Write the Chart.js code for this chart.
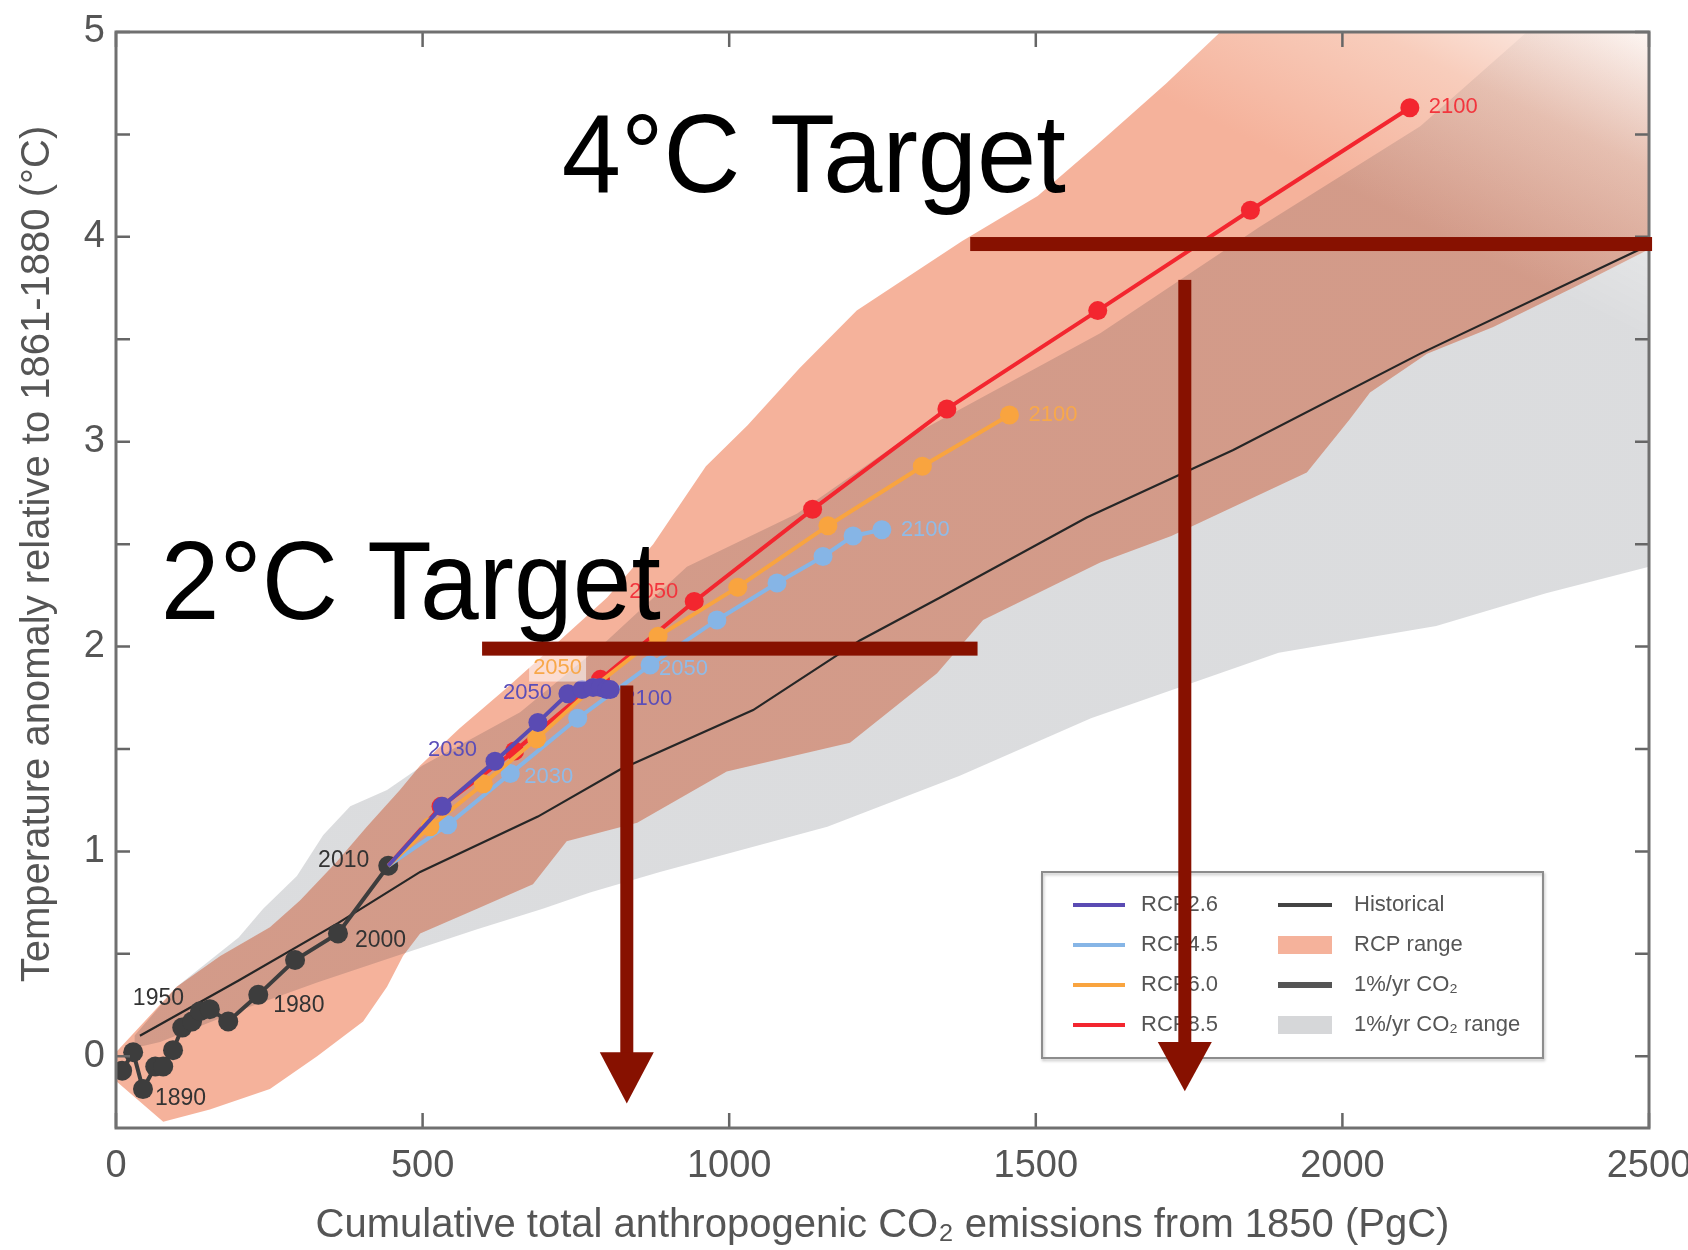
<!DOCTYPE html>
<html>
<head>
<meta charset="utf-8">
<title>Warming vs cumulative CO2 emissions</title>
<script src="https://cdn.jsdelivr.net/npm/chart.js@4.4.1/dist/chart.umd.min.js"></script>
<style>
  html, body { margin: 0; padding: 0; background: #fff; }
  #wrap { width: 1688px; height: 1250px; position: relative; }
</style>
</head>
<body>
<div id="wrap"><canvas id="tempChart"></canvas></div>
<script>
// ---- data (PgC since 1850, degC vs 1861-1880) ----
var histYears = [1870, 1880, 1890, 1900, 1910, 1920, 1930, 1940, 1950, 1960, 1970, 1980, 1990, 2000, 2010];
var histEmis = [10, 28, 44, 64, 77, 93, 108, 124, 137, 153, 183, 232, 292, 362, 444];
var histTemp = [-0.07, 0.02, -0.16, -0.05, -0.05, 0.03, 0.14, 0.17, 0.22, 0.23, 0.17, 0.30, 0.47, 0.60, 0.93];

var rcpYears = [2010, 2020, 2030, 2040, 2050, 2060, 2070, 2080, 2090, 2100];
var rcp26Emis = [444, 532, 618, 688, 737, 760, 778, 790, 800, 806];
var rcp26Temp = [0.93, 1.22, 1.44, 1.63, 1.77, 1.79, 1.80, 1.80, 1.79, 1.79];
var rcp45Emis = [444, 541, 643, 753, 871, 980, 1078, 1153, 1202, 1249];
var rcp45Temp = [0.93, 1.13, 1.38, 1.65, 1.91, 2.13, 2.31, 2.44, 2.54, 2.57];
var rcp60Emis = [444, 512, 599, 686, 778, 884, 1014, 1161, 1315, 1457];
var rcp60Temp = [0.93, 1.12, 1.33, 1.55, 1.80, 2.05, 2.29, 2.59, 2.88, 3.13];
var rcp85Emis = [444, 530, 650, 790, 943, 1136, 1355, 1601, 1850, 2110];
var rcp85Temp = [0.93, 1.22, 1.49, 1.84, 2.22, 2.67, 3.16, 3.64, 4.13, 4.63];

var pctEmis = [39, 200, 362, 496, 688, 822, 1039, 1213, 1344, 1583, 1822, 2127, 2500];
var pctTemp = [0.10, 0.37, 0.65, 0.90, 1.17, 1.40, 1.69, 2.03, 2.24, 2.63, 2.96, 3.43, 3.96];

var rcpTopEmis = [0, 99, 170, 251, 300, 360, 409, 463, 496, 560, 638, 720, 801, 876, 962, 1030, 1115, 1208, 1380, 1503, 1600, 1713, 1808, 2500];
var rcpTopTemp = [0.02, 0.34, 0.49, 0.63, 0.76, 0.95, 1.12, 1.30, 1.42, 1.60, 1.80, 2.02, 2.24, 2.50, 2.88, 3.08, 3.36, 3.64, 3.98, 4.20, 4.45, 4.75, 5.02, 6.0];
var rcpBotEmis = [0, 77, 153, 251, 328, 403, 442, 468, 496, 589, 680, 735, 850, 996, 1197, 1339, 1414, 1605, 1721, 1942, 2012, 2045, 2138, 2246, 2382, 2500];
var rcpBotTemp = [-0.12, -0.32, -0.26, -0.16, 0.0, 0.17, 0.34, 0.49, 0.60, 0.72, 0.84, 1.05, 1.14, 1.39, 1.53, 1.87, 2.13, 2.41, 2.54, 2.85, 3.11, 3.24, 3.43, 3.56, 3.76, 3.94];

var pctTopEmis = [30, 99, 200, 240, 295, 338, 382, 442, 500, 659, 801, 931, 1111, 1279, 1605, 1866, 2127, 2301, 2500];
var pctTopTemp = [0.10, 0.34, 0.58, 0.72, 0.88, 1.08, 1.22, 1.30, 1.42, 1.68, 2.03, 2.39, 2.65, 3.00, 3.53, 4.05, 4.54, 5.0, 5.4];
var pctBotEmis = [30, 72, 207, 328, 468, 589, 696, 773, 887, 1160, 1376, 1590, 1896, 2153, 2332, 2500];
var pctBotTemp = [0.04, 0.07, 0.23, 0.36, 0.50, 0.62, 0.72, 0.80, 0.90, 1.12, 1.37, 1.65, 1.97, 2.10, 2.26, 2.39];

var xTicks = [0, 500, 1000, 1500, 2000, 2500];
var yTicks = [0, 0.5, 1, 1.5, 2, 2.5, 3, 3.5, 4, 4.5, 5];

// warming targets and the emission budgets they point down to
var targetTemps = [2, 4];
var targetLineTemp = [1.99, 3.965];
var targetLineFrom = [597, 1393];
var targetLineTo = [1405, 2505];
var budgetEmis = [833, 1743];
var budgetTop = [1.81, 3.79];

function pairs(xs, ys) {
  return xs.map(function (x, i) { return { x: x, y: ys[i] }; });
}

// top-right corner of the shaded bands washes out to white
function fade(chart, c0, c1, c2) {
  var a = chart.chartArea;
  if (!a) return c0;
  var g = chart.ctx.createLinearGradient(a.right - 123, a.top + 246, a.right, a.top);
  g.addColorStop(0, c0);
  g.addColorStop(0.55, c1);
  g.addColorStop(1, c2);
  return g;
}

var SANS = "'Liberation Sans', Arial, Helvetica, sans-serif";
Chart.defaults.font.family = SANS;
Chart.defaults.color = '#555';

function rcpSet(label, xs, ys, color, order) {
  return {
    label: label,
    data: pairs(xs, ys),
    borderColor: color,
    backgroundColor: color,
    pointBackgroundColor: color,
    pointBorderWidth: 0,
    borderWidth: 4,
    pointRadius: function (c) { return c.dataIndex === 0 ? 0 : 9.5; },
    tension: 0,
    fill: false,
    order: order
  };
}

function edge(xs, ys, order, fill, bg) {
  return {
    data: pairs(xs, ys),
    borderWidth: 0,
    borderColor: 'transparent',
    pointRadius: 0,
    tension: 0,
    fill: fill,
    backgroundColor: bg,
    order: order
  };
}

var datasets = [
  rcpSet('RCP2.6', rcp26Emis, rcp26Temp, '#5a4bb3', 1),
  rcpSet('RCP6.0', rcp60Emis, rcp60Temp, '#f9a43f', 2),
  rcpSet('RCP4.5', rcp45Emis, rcp45Temp, '#86b5e6', 3),
  rcpSet('RCP8.5', rcp85Emis, rcp85Temp, '#f3262f', 4),
  {
    label: 'Historical',
    data: pairs(histEmis, histTemp),
    borderColor: '#3d3d3d',
    backgroundColor: '#3d3d3d',
    pointBackgroundColor: '#3d3d3d',
    pointBorderWidth: 0,
    borderWidth: 4,
    pointRadius: 10,
    tension: 0,
    fill: false,
    order: 5
  },
  {
    label: '1%/yr CO\u2082',
    data: pairs(pctEmis, pctTemp),
    borderColor: '#262626',
    borderWidth: 2.2,
    pointRadius: 0,
    tension: 0,
    fill: false,
    order: 6
  },
  edge(pctTopEmis, pctTopTemp, 7, 7, function (c) {
    return fade(c.chart, 'rgba(15,22,35,0.15)', 'rgba(15,22,35,0.08)', 'rgba(15,22,35,0)');
  }),
  edge(pctBotEmis, pctBotTemp, 8, false, 'transparent'),
  edge(rcpTopEmis, rcpTopTemp, 9, 9, function (c) {
    return fade(c.chart, 'rgb(245,178,155)', 'rgb(248,205,188)', 'rgb(253,246,243)');
  }),
  edge(rcpBotEmis, rcpBotTemp, 10, false, 'transparent')
];

// axis frame with inward ticks on all four sides
var frame = {
  id: 'frame',
  afterDatasetsDraw: function (chart) {
    var ctx = chart.ctx, a = chart.chartArea, x = chart.scales.x, y = chart.scales.y;
    ctx.save();
    ctx.strokeStyle = '#666';
    ctx.lineWidth = 2.5;
    ctx.beginPath();
    yTicks.forEach(function (v) {
      var py = y.getPixelForValue(v);
      ctx.moveTo(a.left, py); ctx.lineTo(a.left + 14, py);
      ctx.moveTo(a.right, py); ctx.lineTo(a.right - 14, py);
    });
    xTicks.forEach(function (v) {
      var px = x.getPixelForValue(v);
      ctx.moveTo(px, a.bottom); ctx.lineTo(px, a.bottom - 15);
      ctx.moveTo(px, a.top); ctx.lineTo(px, a.top + 15);
    });
    ctx.stroke();
    ctx.lineWidth = 3;
    ctx.strokeStyle = '#707070';
    ctx.strokeRect(a.left, a.top, a.right - a.left, a.bottom - a.top);
    ctx.restore();
  }
};

// year tags next to selected markers: [dataset, year, side, dx, dy]
var tagSpots = [
  [4, 1890, 'left', 12, 10], [4, 1950, 'right', -16, -13], [4, 1980, 'left', 15, 11],
  [4, 2000, 'left', 17, 7], [4, 2010, 'right', -19, -5],
  [0, 2030, 'right', -18, -11], [0, 2050, 'right', -16, -1], [0, 2100, 'left', 13, 9],
  [2, 2030, 'left', 14, 3], [2, 2050, 'left', 9, 4], [2, 2100, 'left', 19, 0],
  [1, 2050, 'right', -11, -20], [1, 2100, 'left', 19, 0],
  [3, 2050, 'right', -16, -10], [3, 2100, 'left', 19, -1]
];
var tagColors = ['#5b4eb8', '#f8a84a', '#8fbbe8', '#f2353d', '#333'];

var yearTags = {
  id: 'yearTags',
  afterDatasetsDraw: function (chart) {
    var ctx = chart.ctx;
    ctx.save();
    ctx.textBaseline = 'middle';
    tagSpots.forEach(function (t) {
      var set = t[0];
      var years = set === 4 ? histYears : rcpYears;
      var i = years.indexOf(t[1]);
      var pt = chart.getDatasetMeta(set).data[i];
      var tx = pt.x + t[3], ty = pt.y + t[4];
      ctx.font = (set === 4 ? '23px ' : '22px ') + SANS;
      ctx.textAlign = t[2];
      var label = String(t[1]);
      if (set === 1 && t[1] === 2050) {
        var w = ctx.measureText(label).width;
        ctx.fillStyle = 'rgba(255,255,255,0.55)';
        ctx.fillRect(tx - w - 4, ty - 14, w + 8, 28);
      }
      ctx.fillStyle = tagColors[set];
      ctx.fillText(label, tx, ty);
    });
    ctx.restore();
  }
};

// two-column key in the lower right of the plot
var keyBox = {
  id: 'keyBox',
  afterDatasetsDraw: function (chart) {
    var ctx = chart.ctx, a = chart.chartArea, ds = chart.data.datasets;
    var L = a.right - 607, T = a.bottom - 256, R = a.right - 106, B = a.bottom - 70;
    ctx.save();
    ctx.fillStyle = '#fff';
    ctx.fillRect(L, T, R - L, B - T);
    ctx.shadowColor = 'rgba(0,0,0,0.25)';
    ctx.shadowBlur = 3;
    ctx.shadowOffsetX = 1;
    ctx.shadowOffsetY = 2;
    ctx.strokeStyle = '#8c8c8c';
    ctx.lineWidth = 2;
    ctx.strokeRect(L, T, R - L, B - T);
    ctx.shadowColor = 'transparent';
    ctx.font = '22px ' + SANS;
    ctx.textBaseline = 'middle';
    ctx.textAlign = 'left';
    var rows = [33, 73, 113, 153];
    var left = [0, 2, 1, 3];
    left.forEach(function (k, r) {
      var yy = T + rows[r];
      ctx.strokeStyle = ds[k].borderColor;
      ctx.lineWidth = 4;
      ctx.beginPath(); ctx.moveTo(L + 31, yy); ctx.lineTo(L + 83, yy); ctx.stroke();
      ctx.fillStyle = '#555';
      ctx.fillText(ds[k].label, L + 99, yy);
    });
    var right = [
      ['line', '#444', 4, 'Historical'],
      ['box', 'rgb(245,178,155)', 0, 'RCP range'],
      ['line', '#555', 6, '1%/yr CO\u2082'],
      ['box', '#d6d7d9', 0, '1%/yr CO\u2082 range']
    ];
    right.forEach(function (e, r) {
      var yy = T + rows[r];
      if (e[0] === 'line') {
        ctx.strokeStyle = e[1];
        ctx.lineWidth = e[2];
        ctx.beginPath(); ctx.moveTo(L + 236, yy); ctx.lineTo(L + 290, yy); ctx.stroke();
      } else {
        ctx.fillStyle = e[1];
        ctx.fillRect(L + 236, yy - 9, 54, 18);
      }
      ctx.fillStyle = '#555';
      ctx.fillText(e[3], L + 312, yy);
    });
    ctx.restore();
  }
};

// target labels, target lines and the arrows down to the budgets
var targets = {
  id: 'targets',
  afterDatasetsDraw: function (chart) {
    var ctx = chart.ctx, x = chart.scales.x, y = chart.scales.y;
    var red = '#871100';
    ctx.save();
    ctx.fillStyle = '#000';
    ctx.font = '111px ' + SANS;
    ctx.textBaseline = 'alphabetic';
    ctx.textAlign = 'left';
    var textSpots = [[73, 2.137, 500], [727, 4.22, 504]];
    targetTemps.forEach(function (t, i) {
      var s = textSpots[i];
      var label = t + '\u00b0C Target';
      var w = ctx.measureText(label).width;
      ctx.save();
      ctx.translate(x.getPixelForValue(s[0]), y.getPixelForValue(s[1]));
      ctx.scale(s[2] / w, 1);
      ctx.fillText(label, 0, 0);
      ctx.restore();
    });
    ctx.fillStyle = red;
    targetLineTemp.forEach(function (t, i) {
      var py = y.getPixelForValue(t);
      var x0 = x.getPixelForValue(targetLineFrom[i]), x1 = x.getPixelForValue(targetLineTo[i]);
      ctx.fillRect(x0, py - 7, x1 - x0, 14);
    });
    var heads = [[0.02, -0.23], [0.07, -0.17]];
    budgetEmis.forEach(function (e, i) {
      var px = x.getPixelForValue(e);
      var top = y.getPixelForValue(budgetTop[i]);
      var base = y.getPixelForValue(heads[i][0]);
      var tip = y.getPixelForValue(heads[i][1]);
      ctx.fillRect(px - 6.5, top, 13, base - top + 1);
      ctx.beginPath();
      ctx.moveTo(px - 27, base);
      ctx.lineTo(px + 27, base);
      ctx.lineTo(px, tip);
      ctx.closePath();
      ctx.fill();
    });
    ctx.restore();
  }
};

var yTitle = {
  id: 'yTitle',
  afterDraw: function (chart) {
    var ctx = chart.ctx, a = chart.chartArea;
    ctx.save();
    ctx.translate(38, (a.top + a.bottom) / 2 - 26);
    ctx.rotate(-Math.PI / 2);
    ctx.font = '40px ' + SANS;
    ctx.fillStyle = '#555';
    ctx.textAlign = 'center';
    ctx.textBaseline = 'middle';
    ctx.fillText('Temperature anomaly relative to 1861-1880 (\u00b0C)', 0, 0);
    ctx.restore();
  }
};

new Chart(document.getElementById('tempChart'), {
  type: 'line',
  data: { datasets: datasets },
  options: {
    responsive: true,
    maintainAspectRatio: false,
    animation: false,
    layout: { padding: { top: 32, right: 39, left: 0, bottom: 0 } },
    plugins: {
      legend: { display: false },
      tooltip: { enabled: false }
    },
    scales: {
      x: {
        type: 'linear',
        min: 0,
        max: 2500,
        afterBuildTicks: function (s) { s.ticks = xTicks.map(function (v) { return { value: v }; }); },
        afterFit: function (s) { s.height = 122; s.paddingLeft = 0; s.paddingRight = 0; },
        grid: { display: false, drawTicks: false },
        border: { display: false },
        ticks: {
          font: { size: 38 },
          color: '#555',
          padding: 16,
          maxRotation: 0,
          autoSkip: false,
          callback: function (v) { return String(v); }
        },
        title: {
          display: true,
          text: 'Cumulative total anthropogenic CO\u2082 emissions from 1850 (PgC)',
          font: { size: 40 },
          color: '#555',
          padding: { top: 0, bottom: 0 }
        }
      },
      y: {
        type: 'linear',
        min: -0.35,
        max: 5,
        afterBuildTicks: function (s) { s.ticks = yTicks.map(function (v) { return { value: v }; }); },
        afterFit: function (s) { s.width = 116; s.paddingTop = 0; s.paddingBottom = 0; },
        grid: { display: false, drawTicks: false },
        border: { display: false },
        ticks: {
          font: { size: 38 },
          color: '#555',
          padding: 11,
          autoSkip: false,
          callback: function (v) { return Number.isInteger(v) ? String(v) : ''; }
        }
      }
    }
  },
  plugins: [frame, yearTags, keyBox, targets, yTitle]
});
</script>
</body>
</html>
